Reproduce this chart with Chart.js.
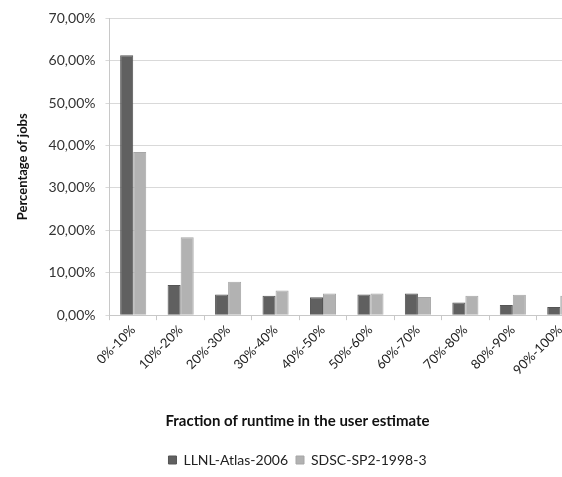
<!DOCTYPE html>
<html lang="en">
<head>
  <meta charset="UTF-8">
  <title>Fraction of runtime in the user estimate</title>
  <script src="https://cdn.jsdelivr.net/npm/chart.js"></script>
  <style>
    body {
      margin: 0;
      padding: 0;
      background: #ffffff;
      overflow: hidden;
    }
    #chartContainer {
      width: 640px;
      height: 477px;
    }
  </style>
</head>
<body>
  <div id="chartContainer">
    <canvas id="runtimeChart"></canvas>
  </div>
  <script>
    // Data (percent of jobs)
    const categories = ['0%-10%', '10%-20%', '20%-30%', '30%-40%', '40%-50%',
                        '50%-60%', '60%-70%', '70%-80%', '80%-90%', '90%-100%'];
    const llnlAtlas = [61.3, 7.1, 4.9, 4.6, 4.2, 4.9, 5.1, 3.0, 2.4, 1.9];
    const sdscSp2 = [38.5, 18.4, 7.9, 5.8, 5.1, 5.1, 4.3, 4.6, 4.8, 4.6];
    const yTicks = [0, 10, 20, 30, 40, 50, 60, 70];

    const font = "Lato, 'Open Sans', sans-serif";

    const ctx = document.getElementById('runtimeChart').getContext('2d');
    const runtimeChart = new Chart(ctx, {
      type: 'bar',
      data: {
        labels: categories,
        datasets: [
          { label: 'LLNL-Atlas-2006', data: llnlAtlas, backgroundColor: '#606060', borderColor: '#555555', borderWidth: 1 },
          { label: 'SDSC-SP2-1998-3', data: sdscSp2, backgroundColor: '#b2b2b2', borderColor: '#a6a6a6', borderWidth: 1 }
        ]
      },
      options: {
        responsive: true,
        maintainAspectRatio: false,
        animation: false,
        layout: { padding: { left: 11, right: 56, top: 12, bottom: 0 } },
        datasets: { bar: { categoryPercentage: 0.55, barPercentage: 1 } },
        scales: {
          x: {
            grid: { display: true, drawOnChartArea: false, offset: true, color: '#c8c8c8', tickLength: 5 },
            border: { color: '#c8c8c8' },
            ticks: { color: '#222', font: { family: font, size: 13 }, maxRotation: 45, minRotation: 45, padding: 2 }
          },
          y: {
            min: 0,
            max: 70,
            afterBuildTicks: axis => { axis.ticks = yTicks.map(v => ({ value: v })); },
            grid: { color: '#d9d9d9', tickLength: 4 },
            border: { color: '#c8c8c8' },
            ticks: {
              color: '#333',
              padding: 10,
              font: { family: font, size: 14 },
              callback: v => v.toFixed(2).replace('.', ',') + '%'
            },
            title: { display: true, text: 'Percentage of jobs', color: '#111', font: { family: font, size: 13, weight: 'bold' }, padding: { bottom: 8 } }
          }
        },
        plugins: {
          legend: {
            position: 'bottom',
            weight: 2000,
            labels: { color: '#222', font: { family: font, size: 14 }, boxWidth: 8, boxHeight: 8, padding: 8 }
          },
          title: {
            display: true,
            position: 'bottom',
            weight: 1000,
            text: 'Fraction of runtime in the user estimate',
            color: '#111',
            font: { family: font, size: 15, weight: 'bold' },
            padding: { top: 32, bottom: 15 }
          },
          tooltip: { enabled: false }
        }
      }
    });
  </script>
</body>
</html>
